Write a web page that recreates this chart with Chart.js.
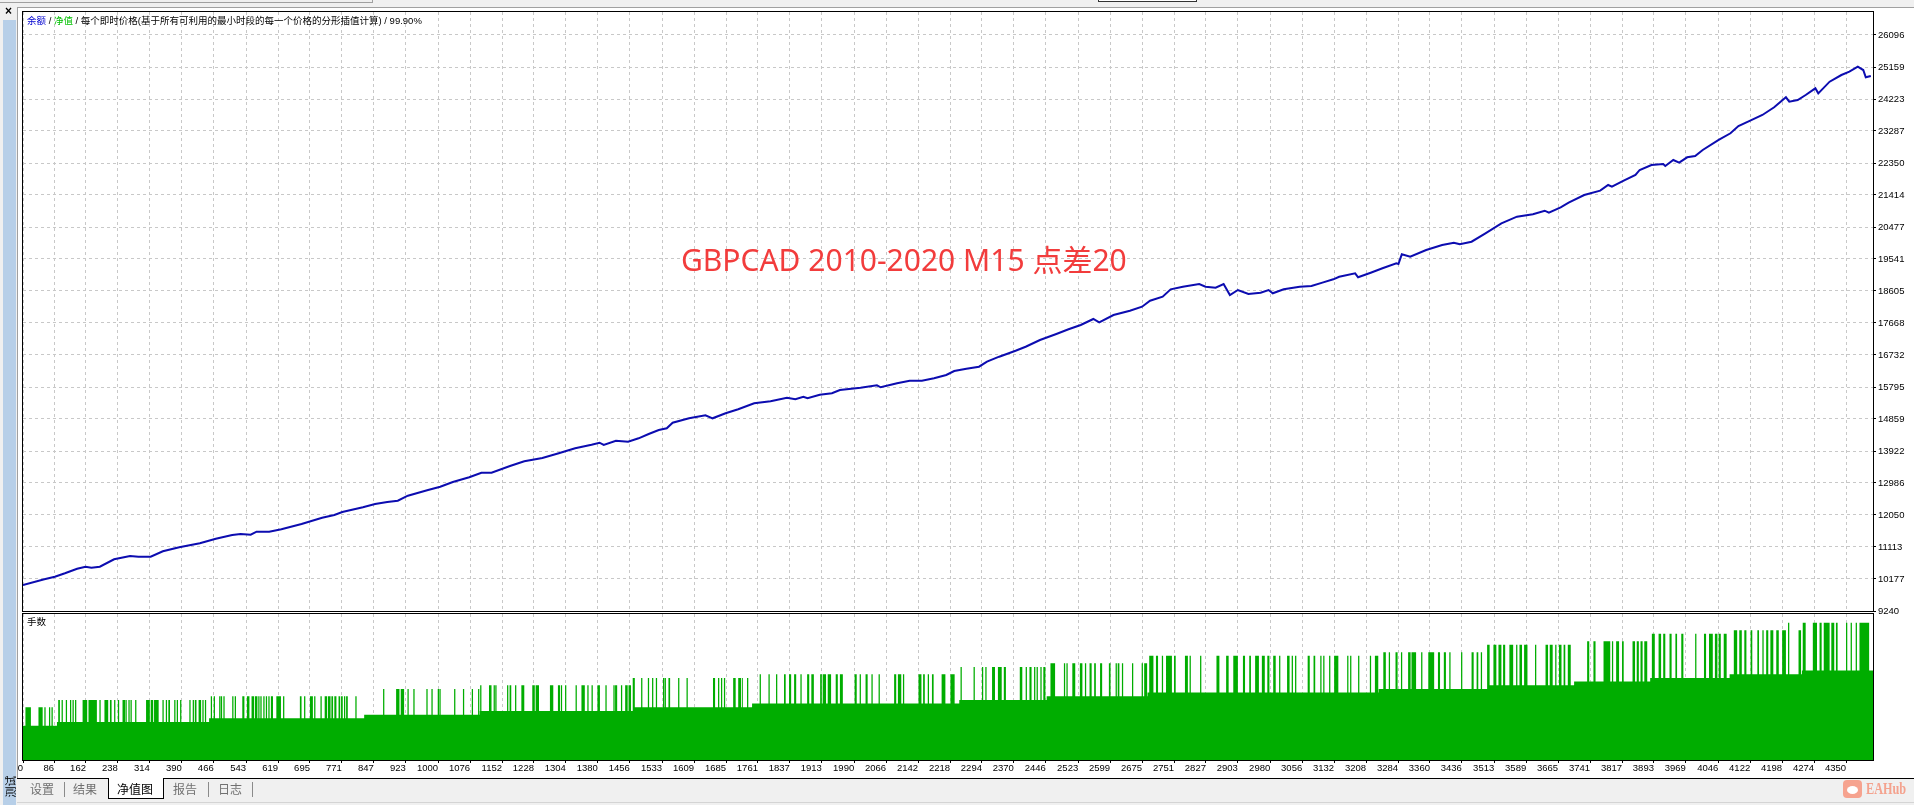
<!DOCTYPE html>
<html lang="zh">
<head>
<meta charset="UTF-8">
<title>净值图</title>
<style>
body { margin: 0; width: 1914px; height: 805px; overflow: hidden; background: #f0f0f0; position: relative; font-family: 'Liberation Sans', 'Noto Sans CJK SC', sans-serif; }
.abs { position: absolute; }
#white { left: 18px; top: 8px; width: 1896px; height: 770px; background: #fff; }
.cv { position: absolute; left: 0; width: 1914px; }
#mainBox { top: 0; height: 622px; }
#lotBox { top: 600px; height: 182px; }
.txt { position: absolute; white-space: nowrap; pointer-events: none; z-index: 5; }
#head { left: 27px; top: 15px; font-size: 9.5px; line-height: 12px; color: #000; }
#lotTitle { left: 27px; top: 616px; font-size: 9.5px; line-height: 12px; color: #000; }
#mark { left: 681px; top: 245px; font-family: 'Noto Sans', 'Noto Sans CJK SC', sans-serif; font-size: 30px; line-height: 30px; color: #f23c3c; }
.tab { position: absolute; top: 782px; font-family: 'Noto Sans CJK SC', sans-serif; font-size: 12px; line-height: 14px; color: #707070; }
.sep { position: absolute; top: 782px; width: 1px; height: 15px; background: #8a8a8a; }
</style>
<script src="https://cdn.jsdelivr.net/npm/chart.js"></script>
</head>
<body>
<!-- window frame -->
<div class="abs" style="left:0;top:2px;width:372px;height:1px;background:#a0a0a0"></div>
<div class="abs" style="left:372px;top:0;width:1px;height:3px;background:#a0a0a0"></div>
<div class="abs" style="left:1098px;top:-3px;width:97px;height:3px;border:1px solid #333;background:#fff"></div>
<div class="abs" style="left:17px;top:7px;width:1897px;height:1px;background:#a0a0a0"></div>
<div class="abs" style="left:17px;top:7px;width:1px;height:771px;background:#a0a0a0"></div>
<div class="abs" style="left:3px;top:20px;width:13px;height:785px;background:#b7cfe8"></div>
<div class="txt" style="left:5px;top:4px;font-size:12px;font-weight:bold">×</div>
<div class="txt" style="left:-5.5px;top:780px;width:30px;height:13px;font-size:11px;line-height:13px;text-align:center;transform:rotate(-90deg);font-family:'Noto Sans CJK SC'">测试</div>
<div id="white" class="abs"></div>

<div id="mainBox" class="cv"><canvas id="mainChart"></canvas></div>
<div id="lotBox" class="cv"><canvas id="lotChart"></canvas></div>

<div id="head" class="txt"><span style="color:#0000d0">余额</span> / <span style="color:#00c000">净值</span> / 每个即时价格(基于所有可利用的最小时段的每一个价格的分形插值计算) / 99.90%</div>
<div id="lotTitle" class="txt">手数</div>
<div id="mark" class="txt">GBPCAD 2010-2020 M15 点差20</div>

<!-- tabs -->
<div class="abs" style="left:17px;top:778px;width:1897px;height:1px;background:#000"></div>
<div class="abs" style="left:17px;top:802px;width:1897px;height:1px;background:#d4d4d4"></div>
<div class="abs" style="left:108px;top:778px;width:54px;height:20px;background:#fff;border:1px solid #000;border-top:none"></div>
<div class="tab" style="left:30px">设置</div>
<div class="sep" style="left:64px"></div>
<div class="tab" style="left:73px">结果</div>
<div class="tab" style="left:117px;color:#000">净值图</div>
<div class="tab" style="left:173px">报告</div>
<div class="sep" style="left:208px"></div>
<div class="tab" style="left:218px">日志</div>
<div class="sep" style="left:252px"></div>
<div class="abs" style="left:1843px;top:780px;width:19px;height:18px;border-radius:4px;background:#f6a38f"></div>
<div class="abs" style="left:1847px;top:786px;width:11px;height:8px;border-radius:50%;background:#fff"></div>
<div class="txt" style="left:1866px;top:779px;font-family:'Liberation Serif';font-weight:bold;font-size:17px;line-height:20px;color:#f4a28e;transform:scaleX(0.72);transform-origin:left">EAHub</div>

<script>
// x axis: trade number
const xTicks = [0, 86, 162, 238, 314, 390, 466, 543, 619, 695, 771, 847, 923, 1000, 1076, 1152, 1228, 1304, 1380, 1456,
    1533, 1609, 1685, 1761, 1837, 1913, 1990, 2066, 2142, 2218, 2294, 2370, 2446, 2523, 2599, 2675, 2751, 2827, 2903, 2980,
    3056, 3132, 3208, 3284, 3360, 3436, 3513, 3589, 3665, 3741, 3817, 3893, 3969, 4046, 4122, 4198, 4274, 4350];
const xMin = 12.2, xMax = 4414.2;

// balance axis
const yTicks = [9240, 10177, 11113, 12050, 12986, 13922, 14859, 15795, 16732, 17668, 18605, 19541, 20477, 21414,
    22350, 23287, 24223, 25159, 26096];
const yMin = 9240, yMax = 26769;

// balance curve
const balanceTrade = [12, 63, 88, 112, 141, 161, 175, 195, 229, 267, 287, 316, 345, 384, 433, 471, 510, 530, 554, 568,
    598, 627, 675, 724, 753, 772, 821, 850, 879, 904, 928, 976, 1005, 1035, 1074, 1103, 1127, 1171, 1205, 1248,
    1287, 1326, 1365, 1384, 1394, 1423, 1452, 1477, 1501, 1525, 1544, 1558, 1597, 1636, 1653, 1684, 1714, 1752, 1791, 1830,
    1850, 1869, 1879, 1908, 1937, 1956, 2005, 2044, 2053, 2092, 2122, 2151, 2180, 2209, 2228, 2257, 2287, 2306, 2335, 2374,
    2398, 2432, 2471, 2500, 2529, 2559, 2573, 2607, 2646, 2675, 2694, 2724, 2743, 2772, 2811, 2826, 2850, 2869, 2884, 2903,
    2928, 2957, 2976, 2986, 3012, 3050, 3078, 3106, 3130, 3144, 3182, 3189, 3219, 3247, 3280, 3285, 3293, 3313, 3351, 3389,
    3417, 3431, 3459, 3492, 3530, 3567, 3605, 3633, 3643, 3671, 3690, 3727, 3765, 3784, 3793, 3821, 3849, 3859, 3887, 3915,
    3920, 3939, 3953, 3972, 3991, 4009, 4047, 4075, 4094, 4122, 4151, 4179, 4207, 4215, 4235, 4254, 4277, 4284, 4311, 4339,
    4358, 4378, 4391, 4397, 4409];
const balance = [10001, 10168, 10244, 10343, 10478, 10536, 10507, 10536, 10753, 10850, 10829, 10829, 10987, 11104, 11221, 11356, 11464, 11493, 11473, 11561,
    11561, 11631, 11786, 11970, 12049, 12137, 12275, 12371, 12430, 12468, 12614, 12781, 12878, 13015, 13153, 13287, 13287, 13483, 13621, 13717,
    13855, 14001, 14107, 14165, 14098, 14224, 14195, 14294, 14420, 14537, 14586, 14751, 14879, 14967, 14879, 15026, 15143, 15318, 15377, 15482,
    15435, 15511, 15465, 15570, 15611, 15707, 15775, 15845, 15786, 15903, 15979, 15979, 16050, 16146, 16263, 16331, 16389, 16536, 16682, 16857,
    16974, 17171, 17346, 17484, 17609, 17785, 17688, 17902, 18028, 18145, 18320, 18437, 18654, 18730, 18809, 18730, 18701, 18809, 18487, 18633,
    18516, 18555, 18633, 18537, 18654, 18730, 18751, 18858, 18946, 19022, 19122, 19005, 19140, 19269, 19415, 19395, 19678, 19608, 19804, 19951,
    20018, 19971, 20047, 20293, 20585, 20779, 20849, 20954, 20896, 21054, 21189, 21414, 21540, 21707, 21657, 21832, 22000, 22146, 22292, 22321,
    22263, 22438, 22359, 22517, 22555, 22731, 23024, 23219, 23433, 23588, 23755, 23980, 24273, 24144, 24193, 24340, 24536, 24389, 24730, 24925,
    25022, 25168, 25071, 24858, 24896];

// lots: base size per stretch of trades, and the larger size used on the marked runs
const lotStart = [12, 93, 455, 824, 1099, 1463, 1747, 2240, 2448, 2688, 3238, 3496, 3703, 3884, 4073, 4245];
const lotBase = [0.10, 0.11, 0.12, 0.13, 0.14, 0.15, 0.16, 0.17, 0.18, 0.19, 0.20, 0.21, 0.22, 0.23, 0.24, 0.25];
const lotPeak = [0.15, 0.17, 0.18, 0.20, 0.21, 0.23, 0.24, 0.26, 0.27, 0.29, 0.30, 0.32, 0.33, 0.35, 0.36, 0.38];
const peakRuns = [
    [18, 31], [49, 59], [63, 66], [74, 77], [80, 83],
    [96, 100], [104, 107], [114, 117], [124, 127], [130, 133], [136, 139], [154, 165], [168, 188], [194, 197], [206, 215],
    [219, 223], [229, 232], [238, 241], [249, 255], [256, 259], [263, 266], [268, 271], [279, 282], [305, 314], [316, 322],
    [324, 335], [344, 347], [352, 355], [358, 362], [372, 375], [378, 381], [386, 389], [408, 411], [416, 419], [421, 425],
    [430, 436], [439, 442], [445, 448],
    [459, 462], [466, 469], [479, 482], [483, 486], [489, 492], [510, 513], [516, 519], [534, 539], [545, 551], [556, 562],
    [564, 570], [572, 575], [577, 580], [584, 587], [590, 593], [596, 599], [602, 607], [615, 626], [631, 634], [671, 675],
    [681, 684], [695, 702], [705, 708], [720, 723], [730, 736], [738, 744], [746, 750], [753, 758], [763, 767], [769, 773],
    [776, 779], [781, 785], [803, 806],
    [869, 872], [900, 908], [911, 919], [927, 930], [941, 944], [972, 975], [984, 987], [999, 1002], [1003, 1006],
    [1038, 1041], [1059, 1062], [1080, 1083], [1095, 1098],
    [1100, 1103], [1121, 1127], [1132, 1135], [1136, 1139], [1164, 1167], [1170, 1174], [1183, 1186], [1198, 1205],
    [1224, 1230], [1232, 1240], [1266, 1274], [1285, 1290], [1292, 1295], [1302, 1305], [1327, 1330], [1341, 1349],
    [1355, 1358], [1365, 1368], [1379, 1385], [1398, 1401], [1417, 1420], [1421, 1426], [1435, 1438], [1445, 1451], [1453, 1459],
    [1463, 1468], [1483, 1486], [1499, 1502], [1509, 1512], [1518, 1521], [1535, 1538], [1539, 1542], [1548, 1552],
    [1571, 1574], [1591, 1594], [1654, 1659], [1666, 1669], [1673, 1676], [1680, 1683], [1702, 1708], [1714, 1721],
    [1723, 1725], [1735, 1738],
    [1765, 1768], [1786, 1789], [1804, 1807], [1823, 1827], [1835, 1840], [1847, 1852], [1862, 1865], [1878, 1883],
    [1888, 1894], [1909, 1913], [1915, 1923], [1927, 1935], [1946, 1951], [1956, 1963], [1991, 1996], [2003, 2006],
    [2017, 2022], [2031, 2034], [2048, 2051], [2085, 2090], [2094, 2102], [2106, 2109], [2143, 2150], [2154, 2158],
    [2165, 2168], [2175, 2179], [2198, 2207], [2219, 2229],
    [2243, 2246], [2274, 2277], [2294, 2297], [2302, 2305], [2318, 2325], [2332, 2341], [2346, 2351], [2384, 2390],
    [2398, 2401], [2407, 2412], [2418, 2421], [2424, 2427], [2433, 2436], [2440, 2445],
    [2457, 2468], [2489, 2492], [2495, 2498], [2509, 2516], [2527, 2533], [2539, 2542], [2550, 2555], [2561, 2565],
    [2575, 2580], [2596, 2600], [2612, 2615], [2617, 2621], [2627, 2630], [2651, 2654], [2674, 2677], [2680, 2687],
    [2692, 2702], [2708, 2713], [2722, 2725], [2732, 2746], [2751, 2755], [2777, 2784], [2788, 2791], [2813, 2816],
    [2852, 2859], [2875, 2881], [2892, 2903], [2915, 2920], [2930, 2934], [2944, 2953], [2960, 2967], [2973, 2978],
    [2987, 2993], [3001, 3004], [3020, 3026], [3031, 3034], [3039, 3042], [3069, 3074], [3083, 3087], [3099, 3102],
    [3106, 3109], [3120, 3123], [3132, 3142], [3163, 3166], [3170, 3173], [3189, 3192], [3217, 3220], [3229, 3237],
    [3249, 3255], [3262, 3265], [3278, 3283], [3291, 3294], [3308, 3314], [3316, 3327], [3339, 3342], [3356, 3370],
    [3379, 3384], [3393, 3398], [3406, 3409], [3434, 3437], [3459, 3464], [3471, 3475], [3481, 3484],
    [3496, 3502], [3511, 3518], [3523, 3530], [3534, 3539], [3549, 3558], [3565, 3568], [3573, 3579], [3584, 3592],
    [3610, 3613], [3635, 3641], [3645, 3652], [3658, 3661], [3667, 3673], [3678, 3682], [3688, 3695],
    [3734, 3739], [3749, 3754], [3773, 3789], [3793, 3796], [3803, 3810], [3817, 3821], [3842, 3848], [3852, 3857],
    [3861, 3866], [3870, 3877],
    [3888, 3895], [3904, 3910], [3915, 3920], [3930, 3935], [3944, 3948], [3958, 3963], [3991, 3994], [4012, 4017],
    [4024, 4033], [4038, 4044], [4047, 4052], [4059, 4066],
    [4083, 4091], [4096, 4102], [4108, 4113], [4123, 4127], [4139, 4143], [4151, 4154], [4160, 4165], [4170, 4177],
    [4184, 4190], [4198, 4207], [4237, 4243],
    [4247, 4254], [4271, 4281], [4287, 4292], [4297, 4311], [4315, 4322], [4326, 4330], [4350, 4353], [4361, 4364],
    [4373, 4376], [4382, 4405]
];
const oddRuns = [[4212, 4215, 0.38]];

Chart.defaults.font.family = "'Liberation Sans', sans-serif";
Chart.defaults.font.size = 9.5;
Chart.defaults.color = '#000';

// black frame round each plot area
const frame = {
    id: 'frame',
    afterDraw(chart) {
        const a = chart.chartArea, ctx = chart.ctx;
        ctx.save();
        ctx.strokeStyle = '#000';
        ctx.lineWidth = 1;
        ctx.strokeRect(Math.round(a.left) - 0.5, Math.round(a.top) - 0.5,
            Math.round(a.right - a.left) + 1, Math.round(a.bottom - a.top) + 1);
        ctx.restore();
    }
};

function xAxis(showLabels) {
    return {
        type: 'linear',
        min: xMin,
        max: xMax,
        afterBuildTicks: s => { s.ticks = xTicks.map(v => ({ value: Math.max(v, xMin) })); },
        afterFit: s => { s.height = showLabels ? 22 : 0; },
        ticks: {
            display: showLabels,
            autoSkip: false,
            maxRotation: 0,
            align: 'end',
            padding: 0,
            callback: (v, i) => String(xTicks[i])
        },
        grid: {
            color: '#c8c8c8',
            drawTicks: showLabels,
            tickLength: 3,
            tickColor: '#000',
            tickBorderDash: []
        },
        border: { display: false, dash: [3, 3] }
    };
}

// balance chart
new Chart(document.getElementById('mainChart'), {
    type: 'line',
    data: {
        datasets: [{
            label: '余额',
            data: balanceTrade.map((t, i) => ({ x: t, y: balance[i] })),
            borderColor: '#0c0cb0',
            borderWidth: 2,
            pointRadius: 0,
            tension: 0,
            fill: false
        }]
    },
    options: {
        responsive: true,
        maintainAspectRatio: false,
        animation: false,
        events: [],
        layout: { padding: { left: 23, top: 12, right: 0, bottom: 11 } },
        plugins: { legend: { display: false }, tooltip: { enabled: false } },
        scales: {
            x: xAxis(false),
            y: {
                position: 'right',
                min: yMin,
                max: yMax,
                afterBuildTicks: s => { s.ticks = yTicks.map(v => ({ value: v })); },
                afterFit: s => { s.width = 41; },
                ticks: { padding: 2, callback: (v, i) => String(yTicks[i]) },
                grid: { color: '#c8c8c8', tickLength: 3, tickColor: '#000', tickBorderDash: [] },
                border: { display: false, dash: [3, 3] }
            }
        }
    },
    plugins: [frame]
});

// lots: step series built from the tables above
const lotPoints = lotStart.map((s, i) => ({ x: s, y: lotBase[i] }));
function segOf(t) {
    let k = 0;
    while (k + 1 < lotStart.length && lotStart[k + 1] <= t) k++;
    return k;
}
peakRuns.forEach(([a, b]) => {
    const k = segOf(a);
    lotPoints.push({ x: a, y: lotPeak[k] }, { x: b, y: lotBase[k] });
});
oddRuns.forEach(([a, b, lot]) => {
    const k = segOf(a);
    lotPoints.push({ x: a, y: lot }, { x: b, y: lotBase[k] });
});
lotPoints.sort((p, q) => p.x - q.x);
lotPoints.push({ x: xMax, y: lotBase[lotBase.length - 1] });

new Chart(document.getElementById('lotChart'), {
    type: 'line',
    data: {
        datasets: [{
            label: '手数',
            data: lotPoints,
            stepped: true,
            fill: 'start',
            backgroundColor: '#00ad00',
            borderColor: 'rgba(0,0,0,0)',
            borderWidth: 0,
            pointRadius: 0
        }]
    },
    options: {
        responsive: true,
        maintainAspectRatio: false,
        animation: false,
        events: [],
        layout: { padding: { left: 23, top: 14, right: 41, bottom: 0 } },
        plugins: { legend: { display: false }, tooltip: { enabled: false } },
        scales: {
            x: xAxis(true),
            y: { display: false, min: 0.0065, max: 0.404 }
        }
    },
    plugins: [frame]
});
</script>
</body>
</html>
